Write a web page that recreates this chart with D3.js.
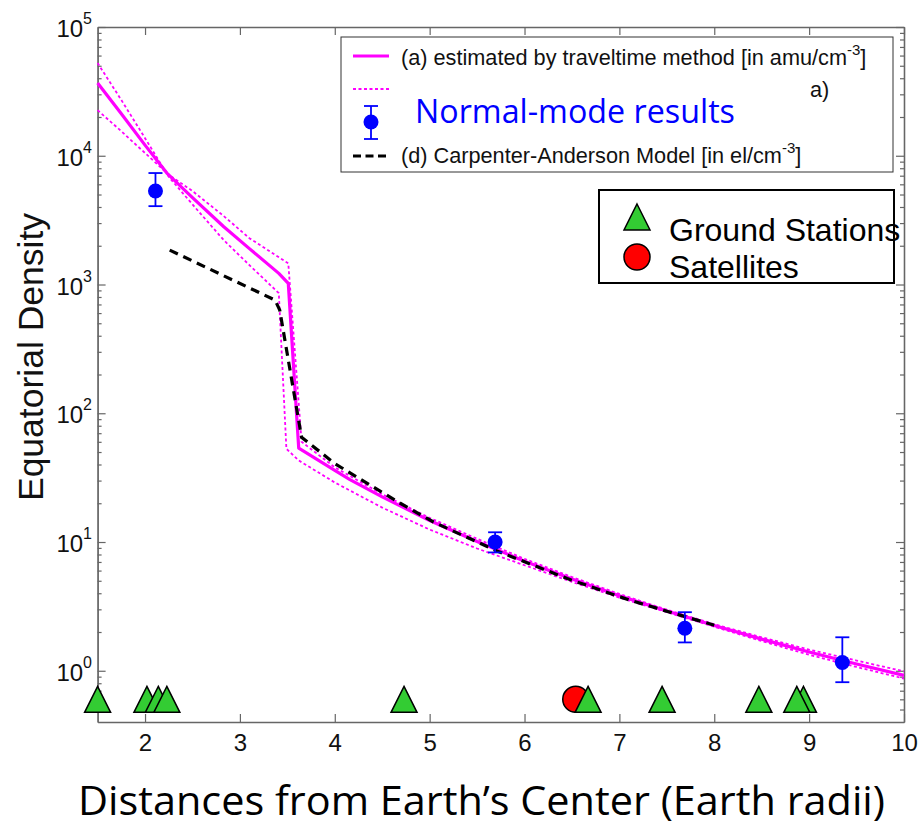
<!DOCTYPE html>
<html lang="en">
<head>
	<meta charset="utf-8">
	<title>Equatorial Density</title>
	<script type="text/javascript" src="https://cdn.jsdelivr.net/npm/d3@7"></script>
	<style>
		body { margin: 0; background: white; }
		svg { display: block; font-family: "Liberation Sans", Arial, sans-serif; }
	</style>
</head>

<body>
	<script type="text/javascript">
		var w = 923;
		var h = 833;

		// (a) traveltime estimate, solid magenta
		var solidX = [1.5, 1.75, 2.0, 2.23, 2.5, 2.83, 3.1, 3.41, 3.51, 3.62, 4.0, 4.16, 4.5, 5.0, 5.5, 6.0, 6.5, 7.0, 7.5, 8.0, 8.5, 9.0, 9.5, 10.0];
		var solidY = [36700, 21200, 12100, 7340, 4730, 2810, 1900, 1220, 1020, 53.6, 36.0, 30.5, 22.4, 14.7, 10.1, 7.1, 5.16, 3.83, 2.91, 2.25, 1.76, 1.40, 1.13, 0.92];

		// dotted bounds
		var dotAX = [1.5, 1.75, 2.0, 2.25, 2.5, 2.83, 3.1, 3.41, 3.49, 3.62, 4.0, 4.5, 5.0, 5.5, 6.0, 6.5, 7.0, 7.5, 8.0, 8.5, 9.0, 9.5, 10.0];
		var dotAY = [52500, 27100, 13700, 6860, 4190, 2210, 1415, 857, 53, 43, 29, 18.5, 12.5, 8.9, 6.6, 4.9, 3.7, 2.85, 2.2, 1.7, 1.33, 1.07, 0.87];
		var dotBX = [1.5, 1.75, 2.0, 2.25, 2.5, 2.83, 3.1, 3.51, 3.65, 4.0, 4.5, 5.0, 5.5, 6.0, 6.5, 7.0, 7.5, 8.0, 8.5, 9.0, 9.5, 10.0];
		var dotBY = [22600, 15500, 10500, 7120, 5320, 3400, 2290, 1460, 60, 38, 23.5, 15.4, 10.6, 7.4, 5.35, 3.95, 2.98, 2.3, 1.82, 1.46, 1.2, 0.99];

		// (d) Carpenter-Anderson model, dashed black
		var dashX = [2.26, 3.37, 3.42, 3.65, 4.0, 4.23, 4.69, 5.04, 5.69, 6.45, 7.1, 7.57, 8.0];
		var dashY = [1850, 757, 632, 65, 40.7, 32, 20, 14.3, 8.64, 5.2, 3.55, 2.8, 2.26];

		// normal-mode results with error bars
		var nmX = [2.11, 5.69, 7.69, 9.35];
		var nmY = [5320, 10.0, 2.14, 1.16];
		var nmHi = [7340, 11.9, 2.85, 1.82];
		var nmLo = [4060, 8.3, 1.66, 0.815];

		// stations along the bottom
		var groundX = [1.5, 2.02, 2.14, 2.23, 4.73, 6.67, 7.45, 8.47, 8.94, 8.87];
		var satX = [6.54];
		var markerLevel = 0.6;

		var xTicks = [2, 3, 4, 5, 6, 7, 8, 9, 10];
		var yExp = [0, 1, 2, 3, 4, 5];

		var x = d3.scaleLinear().domain([1.5, 10]).range([97.6, 904]);
		var y = d3.scaleLog().domain([0.4, 1e5]).range([722, 27]);

		var svg = d3.select("body")
					.append("svg")
					.attr("width", w)
					.attr("height", h);

		var axisColor = "#666";

		// minor log ticks
		var yMinor = [];
		for (var e = -1; e < 5; e++) {
			for (var m = 2; m < 10; m++) {
				var v = m * Math.pow(10, e);
				if (v > 0.4 && v < 1e5) yMinor.push(v);
			}
		}
		var yMajor = yExp.map(function(p) { return Math.pow(10, p); });

		var styleAxis = function(g) {
			g.select(".domain").attr("stroke", axisColor).attr("stroke-width", 1.3);
			g.selectAll(".tick line").attr("stroke", axisColor).attr("stroke-width", 1.2);
		};

		// frame: bottom / top / left / right
		svg.append("g")
		   .attr("transform", "translate(0," + y.range()[0] + ")")
		   .call(d3.axisBottom(x).tickValues(xTicks).tickFormat(d3.format("d"))
				.tickSizeInner(-8).tickSizeOuter(0).tickPadding(12))
		   .call(styleAxis)
		   .call(function(g) {
			   g.selectAll("text").attr("font-size", 24).attr("fill", "#111")
				.attr("font-family", "'Liberation Sans', Arial, sans-serif");
		   });

		svg.append("g")
		   .attr("transform", "translate(0," + y.range()[1] + ")")
		   .call(d3.axisTop(x).tickValues(xTicks).tickFormat("").tickSizeInner(-8).tickSizeOuter(0))
		   .call(styleAxis);

		[[d3.axisLeft, x.range()[0]], [d3.axisRight, x.range()[1]]].forEach(function(a) {
			svg.append("g")
			   .attr("transform", "translate(" + a[1] + ",0)")
			   .call(a[0](y).tickValues(yMinor).tickFormat("").tickSizeInner(-4).tickSizeOuter(0))
			   .call(styleAxis);
			svg.append("g")
			   .attr("transform", "translate(" + a[1] + ",0)")
			   .call(a[0](y).tickValues(yMajor).tickFormat("").tickSizeInner(-8).tickSizeOuter(0))
			   .call(styleAxis);
		});

		// y tick labels 10^n
		var yLab = svg.append("g").attr("font-size", 24).attr("fill", "#111");
		yExp.forEach(function(p) {
			var t = yLab.append("text")
						.attr("x", 92)
						.attr("y", y(Math.pow(10, p)) + 10)
						.attr("text-anchor", "end");
			t.append("tspan").text("10");
			t.append("tspan").attr("font-size", 16).attr("dy", -13).text(p);
		});

		// axis titles
		svg.append("text")
		   .attr("transform", "translate(43,357) rotate(-90)")
		   .attr("text-anchor", "middle")
		   .attr("font-size", 35.5)
		   .attr("fill", "#111")
		   .text("Equatorial Density");

		svg.append("text")
		   .attr("x", 78)
		   .attr("y", 815)
		   .attr("font-family", "'Open Sans', 'Noto Sans', sans-serif")
		   .attr("font-size", 40)
		   .attr("textLength", 807)
		   .attr("lengthAdjust", "spacingAndGlyphs")
		   .attr("fill", "#000")
		   .text("Distances from Earth\u2019s Center (Earth radii)");

		var line = d3.line()
					 .x(function(d) { return x(d[0]); })
					 .y(function(d) { return y(d[1]); });
		var zip = function(a, b) { return a.map(function(v, i) { return [v, b[i]]; }); };

		var plot = svg.append("g").attr("fill", "none");

		plot.append("path")
			.attr("d", line(zip(dotAX, dotAY)))
			.attr("stroke", "#ff00ff").attr("stroke-width", 1.8).attr("stroke-dasharray", "3,2.5");
		plot.append("path")
			.attr("d", line(zip(dotBX, dotBY)))
			.attr("stroke", "#ff00ff").attr("stroke-width", 1.8).attr("stroke-dasharray", "3,2.5");
		plot.append("path")
			.attr("d", line(zip(solidX, solidY)))
			.attr("stroke", "#ff00ff").attr("stroke-width", 3.2).attr("stroke-linejoin", "round");
		plot.append("path")
			.attr("d", line(zip(dashX, dashY)))
			.attr("stroke", "#000").attr("stroke-width", 3.2).attr("stroke-dasharray", "9,6");

		// error bars + points
		var nm = svg.append("g").attr("stroke", "#0000ff").attr("stroke-width", 1.8);
		nmX.forEach(function(d, i) {
			var cx = x(d);
			nm.append("line").attr("x1", cx).attr("x2", cx).attr("y1", y(nmLo[i])).attr("y2", y(nmHi[i]));
			nm.append("line").attr("x1", cx - 7).attr("x2", cx + 7).attr("y1", y(nmLo[i])).attr("y2", y(nmLo[i]));
			nm.append("line").attr("x1", cx - 7).attr("x2", cx + 7).attr("y1", y(nmHi[i])).attr("y2", y(nmHi[i]));
			nm.append("circle").attr("cx", cx).attr("cy", y(nmY[i])).attr("r", 7.5)
			  .attr("fill", "#0000ff").attr("stroke", "none");
		});

		// station markers
		var tri = function(cx, cy, s) {
			return "M" + cx + "," + (cy - s) + "L" + (cx + s) + "," + (cy + s) + "L" + (cx - s) + "," + (cy + s) + "Z";
		};
		var green = "#33cc33";

		svg.selectAll(".sat")
		   .data(satX)
		   .enter()
		   .append("circle")
		   .attr("class", "sat")
		   .attr("cx", function(d) { return x(d); })
		   .attr("cy", y(markerLevel))
		   .attr("r", 13)
		   .attr("fill", "#ff0000").attr("stroke", "#000").attr("stroke-width", 1.5);

		svg.selectAll(".gs")
		   .data(groundX)
		   .enter()
		   .append("path")
		   .attr("class", "gs")
		   .attr("d", function(d) { return tri(x(d), y(markerLevel), 13); })
		   .attr("fill", green).attr("stroke", "#000").attr("stroke-width", 1.5)
		   .attr("stroke-linejoin", "miter");

		// legend 1
		var lg = svg.append("g");
		lg.append("rect")
		  .attr("x", 341).attr("y", 37).attr("width", 552).attr("height", 135)
		  .attr("fill", "white").attr("stroke", "#333").attr("stroke-width", 1);
		lg.append("line").attr("x1", 353).attr("x2", 389).attr("y1", 56).attr("y2", 56)
		  .attr("stroke", "#ff00ff").attr("stroke-width", 3.2);
		lg.append("line").attr("x1", 353).attr("x2", 389).attr("y1", 89).attr("y2", 89)
		  .attr("stroke", "#ff00ff").attr("stroke-width", 1.8).attr("stroke-dasharray", "3,2.5");
		lg.append("line").attr("x1", 371).attr("x2", 371).attr("y1", 106).attr("y2", 139)
		  .attr("stroke", "#0000ff").attr("stroke-width", 1.8);
		lg.append("line").attr("x1", 364).attr("x2", 378).attr("y1", 106).attr("y2", 106)
		  .attr("stroke", "#0000ff").attr("stroke-width", 1.8);
		lg.append("line").attr("x1", 364).attr("x2", 378).attr("y1", 139).attr("y2", 139)
		  .attr("stroke", "#0000ff").attr("stroke-width", 1.8);
		lg.append("circle").attr("cx", 371).attr("cy", 122).attr("r", 7.5).attr("fill", "#0000ff");
		lg.append("line").attr("x1", 353).attr("x2", 389).attr("y1", 156).attr("y2", 156)
		  .attr("stroke", "#000").attr("stroke-width", 3.2).attr("stroke-dasharray", "8,4.5");

		var t1 = lg.append("text").attr("x", 401).attr("y", 65).attr("font-size", 21.7).attr("fill", "#111");
		t1.append("tspan").text("(a) estimated by traveltime method [in amu/cm");
		t1.append("tspan").attr("font-size", 15).attr("dy", -10).text("-3");
		t1.append("tspan").attr("dy", 10).text("]");

		lg.append("text").attr("x", 810).attr("y", 97).attr("font-size", 21.7).attr("fill", "#111").text("a)");

		lg.append("text")
		  .attr("x", 415).attr("y", 123)
		  .attr("font-family", "'Open Sans', 'Noto Sans', sans-serif")
		  .attr("font-size", 33)
		  .attr("textLength", 320)
		  .attr("lengthAdjust", "spacingAndGlyphs")
		  .attr("fill", "#0000ff")
		  .text("Normal-mode results");

		var t2 = lg.append("text").attr("x", 401).attr("y", 163).attr("font-size", 21.7).attr("fill", "#111");
		t2.append("tspan").text("(d) Carpenter-Anderson Model [in el/cm");
		t2.append("tspan").attr("font-size", 15).attr("dy", -10).text("-3");
		t2.append("tspan").attr("dy", 10).text("]");

		// legend 2
		var lg2 = svg.append("g");
		lg2.append("rect")
		   .attr("x", 599).attr("y", 190).attr("width", 295).attr("height", 93)
		   .attr("fill", "white").attr("stroke", "#000").attr("stroke-width", 2);
		lg2.append("path").attr("d", tri(637, 217, 13))
		   .attr("fill", green).attr("stroke", "#000").attr("stroke-width", 1.5);
		lg2.append("circle").attr("cx", 637).attr("cy", 257).attr("r", 13)
		   .attr("fill", "#ff0000").attr("stroke", "#000").attr("stroke-width", 1.5);
		lg2.append("text").attr("x", 669).attr("y", 241).attr("font-size", 32).attr("fill", "#000").text("Ground Stations");
		lg2.append("text").attr("x", 669).attr("y", 278).attr("font-size", 32).attr("fill", "#000").text("Satellites");
	</script>
</body>
</html>
